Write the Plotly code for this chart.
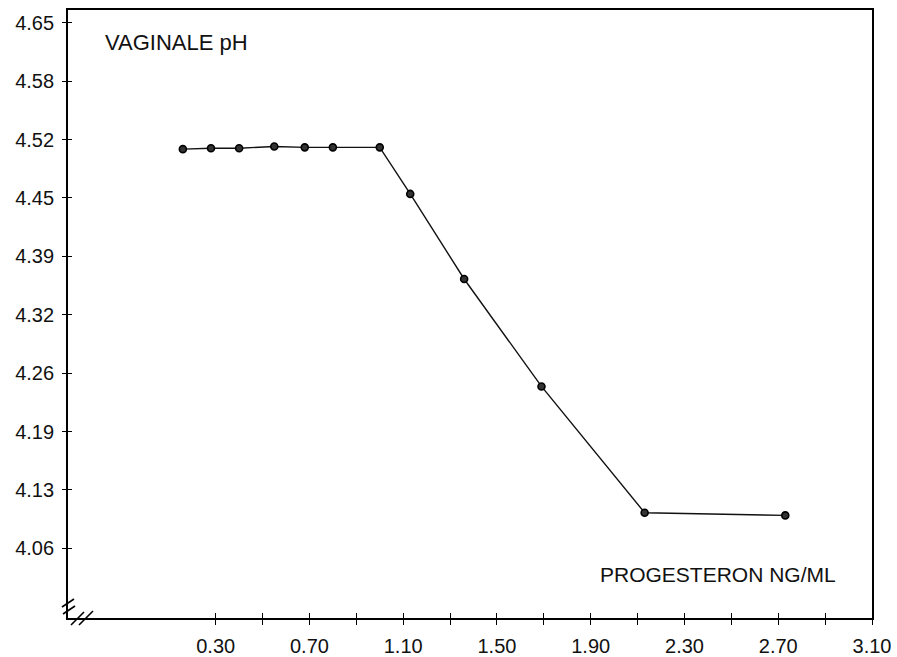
import plotly.graph_objects as go

# Progesterone concentration (ng/ml) vs vaginal pH
progesteron = [0.16, 0.28, 0.40, 0.55, 0.68, 0.80, 1.00, 1.13, 1.36, 1.69, 2.13, 2.73]
vaginale_ph = [4.511, 4.512, 4.512, 4.514, 4.513, 4.513, 4.513, 4.461, 4.366, 4.246, 4.105, 4.102]

# x axis: ticks every 0.2, labels every 0.4
x_tickvals = [0.30, 0.50, 0.70, 0.90, 1.10, 1.30, 1.50, 1.70, 1.90, 2.10,
              2.30, 2.50, 2.70, 2.90, 3.10]
x_ticktext = ["0.30", "", "0.70", "", "1.10", "", "1.50", "", "1.90", "",
              "2.30", "", "2.70", "", "3.10"]

# y axis: ten evenly spaced ticks above 4.00, labels truncated to 2 decimals
y_step = 0.0652174
y_tickvals = [4.0 + k * y_step for k in range(1, 11)]
y_ticktext = ["4.06", "4.13", "4.19", "4.26", "4.32", "4.39", "4.45", "4.52", "4.58", "4.65"]

x_range = [-0.330, 3.100]
y_range = [3.9874, 4.6664]

FONT = "Liberation Sans, Arial, sans-serif"

fig = go.Figure()
fig.add_trace(go.Scatter(
    x=progesteron, y=vaginale_ph, mode="lines+markers",
    line=dict(color="#111", width=1.4),
    marker=dict(symbol="circle", size=7, color="#333",
                line=dict(color="#000", width=1.6)),
    showlegend=False, hoverinfo="x+y",
))

# invisible trace so the overlay axes (inner tick halves) are drawn
fig.add_trace(go.Scatter(x=[x_range[0]], y=[y_range[0]], xaxis="x2", yaxis="y2",
                         mode="markers", marker=dict(opacity=0), showlegend=False,
                         hoverinfo="skip"))

common_axis = dict(showgrid=False, zeroline=False, tickcolor="#000", tickwidth=1.2,
                   automargin=False)

fig.update_layout(
    width=897, height=657, autosize=False,
    margin=dict(l=68, r=25, t=10, b=39),
    paper_bgcolor="white", plot_bgcolor="white",
    font=dict(family=FONT, size=20, color="#111"),
    xaxis=dict(range=x_range, tickvals=x_tickvals, ticktext=x_ticktext,
               ticks="outside", ticklen=5, ticklabelstandoff=4,
               showline=True, linecolor="#000", linewidth=1.8, mirror=True,
               tickfont=dict(family=FONT, size=20, color="#111"),
               **common_axis),
    yaxis=dict(range=y_range, tickvals=y_tickvals, ticktext=y_ticktext,
               ticks="outside", ticklen=4, ticklabelstandoff=4,
               showline=True, linecolor="#000", linewidth=1.8, mirror=True,
               tickfont=dict(family=FONT, size=20, color="#111"),
               **common_axis),
    xaxis2=dict(range=x_range, overlaying="x", anchor="y2", side="bottom",
                tickvals=x_tickvals, ticks="inside", ticklen=5,
                showticklabels=False, showline=False, **common_axis),
    yaxis2=dict(range=y_range, overlaying="y", anchor="x2", side="left",
                tickvals=y_tickvals, ticks="inside", ticklen=4,
                showticklabels=False, showline=False, **common_axis),
)

# axis titles written inside the frame
fig.add_annotation(text="VAGINALE pH", xref="paper", yref="paper",
                   x=0.043, y=0.946, xanchor="left", yanchor="middle",
                   showarrow=False, font=dict(family=FONT, size=22, color="#111"))
fig.add_annotation(text="PROGESTERON NG/ML", xref="paper", yref="paper",
                   x=0.958, y=0.071, xanchor="right", yanchor="middle",
                   showarrow=False, font=dict(family=FONT, size=21, color="#111"))

# axis-break marks at the lower-left corner
PW, PH = 804.0, 608.0
def px(xp, yp):
    return (xp - 68) / PW, (618 - yp) / PH

breaks = [
    ((62, 607), (74, 599)),
    ((63, 614), (75, 606)),
    ((71, 625), (84, 612)),
    ((79, 625), (93, 611)),
]
for (a, b) in breaks:
    x0, y0 = px(*a)
    x1, y1 = px(*b)
    fig.add_shape(type="line", xref="paper", yref="paper",
                  x0=x0, y0=y0, x1=x1, y1=y1,
                  line=dict(color="#000", width=1.6))

fig.write_html("out.html")
